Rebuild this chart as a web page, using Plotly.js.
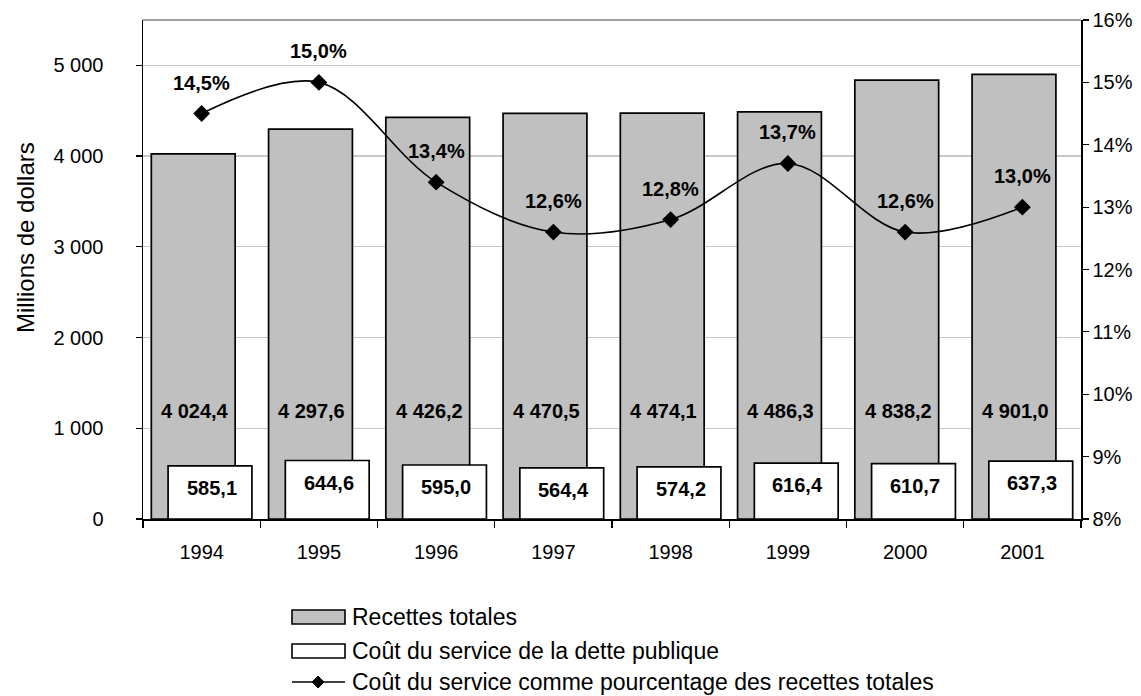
<!DOCTYPE html>
<html>
<head>
<meta charset="utf-8">
<script src="https://cdn.plot.ly/plotly-3.0.1.min.js"></script>
<style>html,body{margin:0;padding:0;background:#fff;}#chart{width:1141px;height:696px;}</style>
</head>
<body>
<div id="chart"></div>
<script>
const years = ['1994','1995','1996','1997','1998','1999','2000','2001'];
const recettesTotales = [4024.4, 4297.6, 4426.2, 4470.5, 4474.1, 4486.3, 4838.2, 4901.0];
const coutService = [585.1, 644.6, 595.0, 564.4, 574.2, 616.4, 610.7, 637.3];
const pourcentage = [14.5, 15.0, 13.4, 12.6, 12.8, 13.7, 12.6, 13.0];
const legendLabels = ['Recettes totales', 'Coût du service de la dette publique', 'Coût du service comme pourcentage des recettes totales'];
const yTitle = 'Millions de dollars';

const FONT = 'Liberation Sans, Arial, sans-serif';
function fmtNum(v) {
  const s = v.toFixed(1).split('.');
  const intPart = s[0].replace(/\B(?=(\d{3})+(?!\d))/g, ' ');
  return intPart + ',' + s[1];
}
function fmtPct(v) { return v.toFixed(1).replace('.', ',') + '%'; }

// plot area in pixels
const L = 143, R = 60, T = 20, B = 177, W = 1141, H = 696;
const pw = W - L - R, ph = H - T - B;
const px = x => (x - L) / pw;
const py = y => (H - B - y) / ph;

const traces = [
  {type: 'bar', x: years, y: recettesTotales, name: legendLabels[0],
   width: 0.715, offset: -0.429,
   marker: {color: '#C0C0C0', line: {color: '#000', width: 1.7}}, hoverinfo: 'y'},
  {type: 'bar', x: years, y: coutService, name: legendLabels[1],
   width: 0.715, offset: -0.286,
   marker: {color: '#FFFFFF', line: {color: '#000', width: 1.7}}, hoverinfo: 'y'},
  {type: 'scatter', mode: 'lines+markers', x: years, y: pourcentage, yaxis: 'y2', name: legendLabels[2],
   line: {color: '#000', width: 1.6, shape: 'spline', smoothing: 1},
   marker: {symbol: 'diamond', size: 13, color: '#000'}}
];

const annotations = [];
years.forEach((yr, i) => {
  annotations.push({x: i, y: pourcentage[i], xref: 'x', yref: 'y2', text: fmtPct(pourcentage[i]),
    showarrow: false, yshift: 31, font: {family: FONT, size: 20, color: '#000', weight: 'bold'}});
  annotations.push({x: i, y: 1190, xref: 'x', yref: 'y', text: fmtNum(recettesTotales[i]),
    showarrow: false, xshift: -7, font: {family: FONT, size: 20, color: '#000', weight: 'bold'}});
  annotations.push({x: i, y: coutService[i], xref: 'x', yref: 'y', text: fmtNum(coutService[i]),
    showarrow: false, xshift: 10, yshift: -22, font: {family: FONT, size: 20, color: '#000', weight: 'bold'}});
});

const rowY = [617, 651, 682];
legendLabels.forEach((t, i) => {
  annotations.push({x: px(350), y: py(rowY[i]), xref: 'paper', yref: 'paper', text: t,
    xanchor: 'left', yanchor: 'middle', showarrow: false, font: {family: FONT, size: 23, color: '#000'}});
});
annotations.push({x: px(25), y: py(238), xref: 'paper', yref: 'paper', text: yTitle, textangle: -90,
  xanchor: 'center', yanchor: 'middle', showarrow: false, font: {family: FONT, size: 24, color: '#000'}});

const shapes = [
  {type: 'line', xref: 'paper', yref: 'paper', x0: 0, x1: 1, y0: 1, y1: 1, line: {color: '#808080', width: 1.5}},
  {type: 'rect', xref: 'paper', yref: 'paper', x0: px(292), x1: px(345), y0: py(610), y1: py(624),
   fillcolor: '#C0C0C0', line: {color: '#000', width: 1.6}},
  {type: 'rect', xref: 'paper', yref: 'paper', x0: px(292), x1: px(345), y0: py(644), y1: py(658),
   fillcolor: '#FFFFFF', line: {color: '#000', width: 1.6}},
  {type: 'line', xref: 'paper', yref: 'paper', x0: px(292), x1: px(345), y0: py(682), y1: py(682),
   line: {color: '#000', width: 1.6}},
  {type: 'path', xref: 'paper', yref: 'paper',
   path: `M ${px(318)},${py(676)} L ${px(324)},${py(682)} L ${px(318)},${py(688)} L ${px(312)},${py(682)} Z`,
   fillcolor: '#000', line: {color: '#000', width: 1}}
];

const layout = {
  width: W, height: H,
  margin: {l: L, r: R, t: T, b: B, pad: 0},
  paper_bgcolor: '#fff', plot_bgcolor: '#fff',
  font: {family: FONT, size: 20, color: '#000'},
  separators: ', ',
  barmode: 'overlay',
  showlegend: false,
  xaxis: {type: 'category', range: [-0.5, 7.5], showline: true, linecolor: '#000', linewidth: 1.5,
    ticks: 'outside', tickson: 'boundaries', ticklen: 7, tickcolor: '#000', tickwidth: 1.2,
    showgrid: false, tickfont: {size: 20}, tickangle: 0, fixedrange: true, zeroline: false,
    ticklabelstandoff: 14},
  yaxis: {range: [0, 5500], tickvals: [0, 1000, 2000, 3000, 4000, 5000], tickformat: ',d',
    showline: true, linecolor: '#000', linewidth: 1.5,
    ticks: 'outside', ticklen: 6, tickcolor: '#000', tickwidth: 1.2,
    showgrid: true, gridcolor: '#C8C8C8', gridwidth: 1.2, zeroline: false,
    tickfont: {size: 20}, ticklabelstandoff: 28},
  yaxis2: {overlaying: 'y', side: 'right', range: [8, 16], dtick: 1, ticksuffix: '%',
    showline: true, linecolor: '#000', linewidth: 1.5,
    ticks: 'outside', ticklen: 6, tickcolor: '#000', tickwidth: 1.2,
    showgrid: false, zeroline: false, tickfont: {size: 20}},
  annotations: annotations,
  shapes: shapes
};

Plotly.newPlot('chart', traces, layout, {displayModeBar: false, staticPlot: true});
</script>
</body>
</html>
